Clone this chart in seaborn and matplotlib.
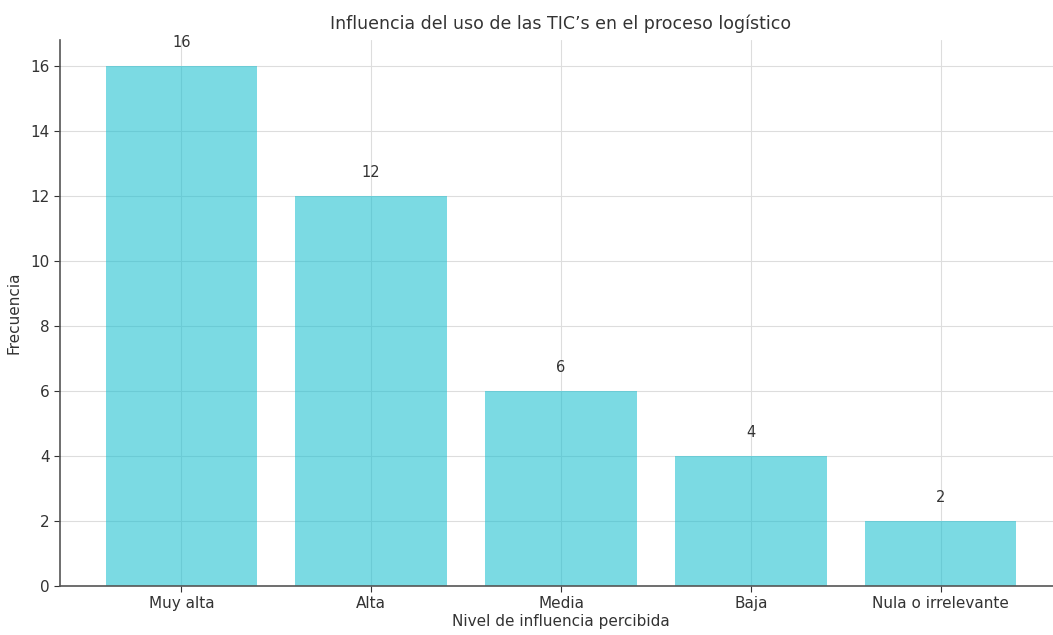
import matplotlib
matplotlib.use("Agg")
import matplotlib.pyplot as plt
import seaborn as sns

niveles = ["Muy alta", "Alta", "Media", "Baja", "Nula o irrelevante"]
frecuencias = [16, 12, 6, 4, 2]

sns.set_style("whitegrid", {
    "axes.edgecolor": "#555555",
    "grid.color": "#dddddd",
    "xtick.bottom": True,
    "ytick.left": True,
})
plt.rcParams['font.family'] = ['DejaVu Sans']

fig = plt.figure(figsize=(10.53, 6.35), dpi=100)
ax = fig.add_axes([60 / 1053, 49 / 635, 1002 / 1053, 546 / 635])

# barras semitransparentes: la rejilla se ve a través
sns.barplot(x=niveles, y=frecuencias, color="#17becf", alpha=0.57,
            saturation=1, width=0.8, linewidth=0, edgecolor="none", ax=ax)

for i, v in enumerate(frecuencias):
    ax.text(i, v + 0.5, str(v), ha="center", va="bottom", fontsize=10.5, color="#333333")

ax.set_xlim(-0.64, 4.64)
ax.set_ylim(0, 16.8)
ax.set_title("Influencia del uso de las TIC’s en el proceso logístico", fontsize=12.5,
             color="#333333", pad=8)
ax.set_xlabel("Nivel de influencia percibida", fontsize=11, color="#333333", labelpad=2)
ax.set_ylabel("Frecuencia", fontsize=11, color="#333333", labelpad=6)
ax.tick_params(axis="both", labelsize=11, colors="#333333", length=4, width=0.8)
ax.grid(True, axis="both", linewidth=0.8)
ax.set_axisbelow(True)
sns.despine(ax=ax, top=True, right=True)
for s in ["left", "bottom"]:
    ax.spines[s].set_linewidth(1.2)

fig.savefig("out.png", dpi=100)
